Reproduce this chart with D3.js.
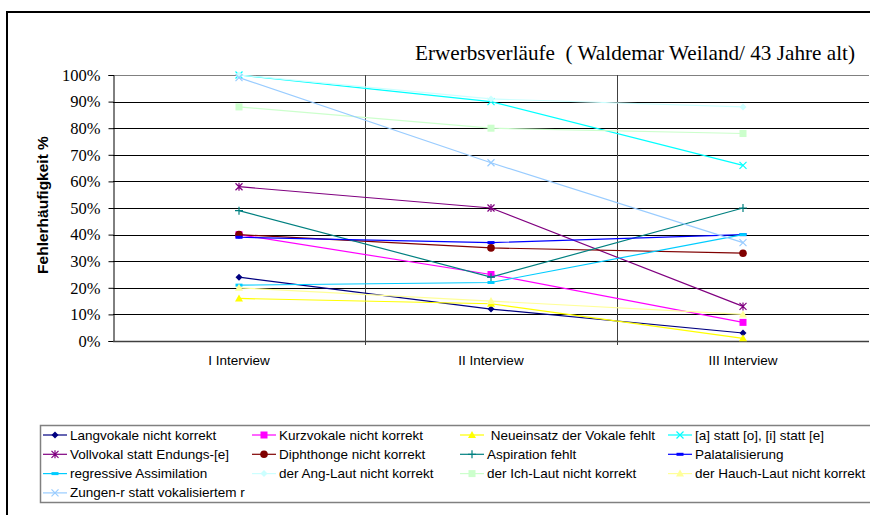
<!DOCTYPE html>
<html>
<head>
<meta charset="utf-8">
<style>
  body { margin: 0; background: #fff; }
</style>
</head>
<body>
<svg class="chart"></svg>
<script src="https://cdn.jsdelivr.net/npm/d3@7"></script>
<script>
var categories = ["I Interview", "II Interview", "III Interview"];
var yTicks = [0, 10, 20, 30, 40, 50, 60, 70, 80, 90, 100];

var seriesNames = [
  "Langvokale nicht korrekt", "Kurzvokale nicht korrekt", " Neueinsatz der Vokale fehlt", "[a] statt [o], [i] statt [e]",
  "Vollvokal statt Endungs-[e]", "Diphthonge nicht korrekt", "Aspiration fehlt", "Palatalisierung",
  "regressive Assimilation", "der Ang-Laut nicht korrekt", "der Ich-Laut nicht korrekt", "der Hauch-Laut nicht korrekt",
  "Zungen-r statt vokalisiertem r"
];

// values in % for I, II, III interview
var langvokale = [24, 12, 3];
var kurzvokale = [40, 25, 7];
var neueinsatz = [16, 14, 1];
var aStatt = [100, 90, 66];
var vollvokal = [58, 50, 13];
var diphthonge = [40, 35, 33];
var aspiration = [49, 24, 50];
var palatal = [39, 37, 40];
var regressive = [21, 22, 40];
var angLaut = [100, 91, 88];
var ichLaut = [88, 80, 78];
var hauchLaut = [20, 15, 10];
var zungenR = [99, 67, 37];

var seriesValues = [langvokale, kurzvokale, neueinsatz, aStatt, vollvokal, diphthonge,
  aspiration, palatal, regressive, angLaut, ichLaut, hauchLaut, zungenR];

var colors = ["#000080", "#ff00ff", "#ffff00", "#00ffff", "#800080", "#800000",
  "#008080", "#0000ff", "#00ccff", "#ccffff", "#ccffcc", "#ffff99", "#99ccff"];
var markers = ["diamond", "square", "triangle", "x", "star", "circle",
  "plus", "dash", "dash", "diamond", "square", "triangle", "x"];

var serif = "'Liberation Serif', 'Times New Roman', serif";
var sans = "'Liberation Sans', Arial, sans-serif";

var width = 870, height = 515;
var svg = d3.select(".chart").attr("width", width).attr("height", height);

// outer chart frame (cut off at right and bottom)
svg.append("rect")
  .attr("x", 7).attr("y", 12)
  .attr("width", 900).attr("height", 600)
  .attr("fill", "#fff").attr("stroke", "#000").attr("stroke-width", 2);

var x = d3.scaleBand().domain(categories).range([113, 869]).padding(0);
var y = d3.scaleLinear().domain([0, 100]).range([341, 75]);

// horizontal gridlines
svg.append("g").selectAll("line")
  .data(yTicks.filter(function(d) { return d > 0; }))
  .enter().append("line")
  .attr("x1", 113).attr("x2", 869)
  .attr("y1", function(d) { return Math.round(y(d)) + 0.5; })
  .attr("y2", function(d) { return Math.round(y(d)) + 0.5; })
  .attr("stroke", function(d) { return d === 100 ? "#808080" : "#000"; })
  .attr("stroke-width", 1);

// vertical gridlines at category boundaries
svg.append("g").selectAll("line")
  .data(categories.slice(1))
  .enter().append("line")
  .attr("x1", function(d) { return Math.round(x(d)) + 0.5; })
  .attr("x2", function(d) { return Math.round(x(d)) + 0.5; })
  .attr("y1", 75).attr("y2", 345)
  .attr("stroke", "#404040").attr("stroke-width", 1);

// y axis
var yAxis = svg.append("g")
  .attr("transform", "translate(113.5,0)")
  .attr("font-family", serif)
  .call(d3.axisLeft(y).tickValues(yTicks).tickSize(5).tickFormat(function(d) { return d + "%"; }));
yAxis.attr("font-family", serif);
yAxis.select(".domain").attr("stroke", "#000");
yAxis.selectAll(".tick line").attr("stroke", "#000");
yAxis.selectAll(".tick text")
  .attr("x", -13)
  .style("font-family", serif)
  .style("font-size", "16.5px")
  .style("fill", "#000");

// x axis line
svg.append("line")
  .attr("x1", 113).attr("x2", 869)
  .attr("y1", Math.round(y(0)) + 0.5).attr("y2", Math.round(y(0)) + 0.5)
  .attr("stroke", "#404040").attr("stroke-width", 1.5);

// category labels
svg.append("g").selectAll("text")
  .data(categories)
  .enter().append("text")
  .attr("x", function(d) { return x(d) + x.bandwidth() / 2; })
  .attr("y", 365)
  .attr("text-anchor", "middle")
  .style("font-family", sans)
  .style("font-size", "13.5px")
  .text(function(d) { return d; });

// y axis title
svg.append("text")
  .attr("transform", "translate(48,205) rotate(-90)")
  .attr("text-anchor", "middle")
  .style("font-family", sans)
  .style("font-size", "15.5px")
  .style("font-weight", "bold")
  .text("Fehlerhäufigkeit %");

// title
svg.append("text")
  .attr("x", 415).attr("y", 60)
  .style("font-family", serif)
  .style("font-size", "21.2px")
  .style("white-space", "pre")
  .text("Erwerbsverläufe  ( Waldemar Weiland/ 43 Jahre alt)");

function drawMarker(g, type, color) {
  if (type === "diamond") {
    g.append("path").attr("d", "M0,-3.5L3.5,0L0,3.5L-3.5,0Z").attr("fill", color);
  } else if (type === "square") {
    g.append("rect").attr("x", -3.5).attr("y", -3.5).attr("width", 7).attr("height", 7).attr("fill", color);
  } else if (type === "triangle") {
    g.append("path").attr("d", "M0,-4L4,3L-4,3Z").attr("fill", color);
  } else if (type === "circle") {
    g.append("circle").attr("r", 3.8).attr("fill", color);
  } else if (type === "x") {
    g.append("path").attr("d", "M-3.5,-3.5L3.5,3.5M-3.5,3.5L3.5,-3.5").attr("stroke", color).attr("stroke-width", 1.2);
  } else if (type === "star") {
    g.append("path").attr("d", "M-3.5,-3.5L3.5,3.5M-3.5,3.5L3.5,-3.5M0,-4L0,4").attr("stroke", color).attr("stroke-width", 1.2);
  } else if (type === "plus") {
    g.append("path").attr("d", "M-4,0L4,0M0,-4L0,4").attr("stroke", color).attr("stroke-width", 1.2);
  } else if (type === "dash") {
    g.append("rect").attr("x", -3.5).attr("y", -1.5).attr("width", 7).attr("height", 3).attr("fill", color);
  }
}

var line = d3.line()
  .x(function(d, i) { return x(categories[i]) + x.bandwidth() / 2; })
  .y(function(d) { return y(d); });

seriesValues.forEach(function(vals, s) {
  var g = svg.append("g");
  g.append("path")
    .attr("d", line(vals))
    .attr("fill", "none")
    .attr("stroke", colors[s])
    .attr("stroke-width", 1.2);
  vals.forEach(function(v, i) {
    var m = g.append("g")
      .attr("transform", "translate(" + (x(categories[i]) + x.bandwidth() / 2) + "," + y(v) + ")");
    drawMarker(m, markers[s], colors[s]);
  });
});

// legend
var legend = svg.append("g");
legend.append("rect")
  .attr("x", 40.5).attr("y", 425.5)
  .attr("width", 860).attr("height", 77)
  .attr("fill", "#fff").attr("stroke", "#808080").attr("stroke-width", 1.5);

var colX = [43, 252, 460, 668];
seriesNames.forEach(function(name, s) {
  var cx = colX[s % 4];
  var cy = 435 + Math.floor(s / 4) * 19.3;
  var item = legend.append("g");
  item.append("line")
    .attr("x1", cx).attr("x2", cx + 24)
    .attr("y1", cy).attr("y2", cy)
    .attr("stroke", colors[s]).attr("stroke-width", 1.2);
  var m = item.append("g").attr("transform", "translate(" + (cx + 12) + "," + cy + ")");
  drawMarker(m, markers[s], colors[s]);
  item.append("text")
    .attr("x", cx + 27).attr("y", cy + 4.5)
    .style("font-family", sans)
    .style("font-size", "13.5px")
    .style("white-space", "pre")
    .text(name);
});
</script>
</body>
</html>
